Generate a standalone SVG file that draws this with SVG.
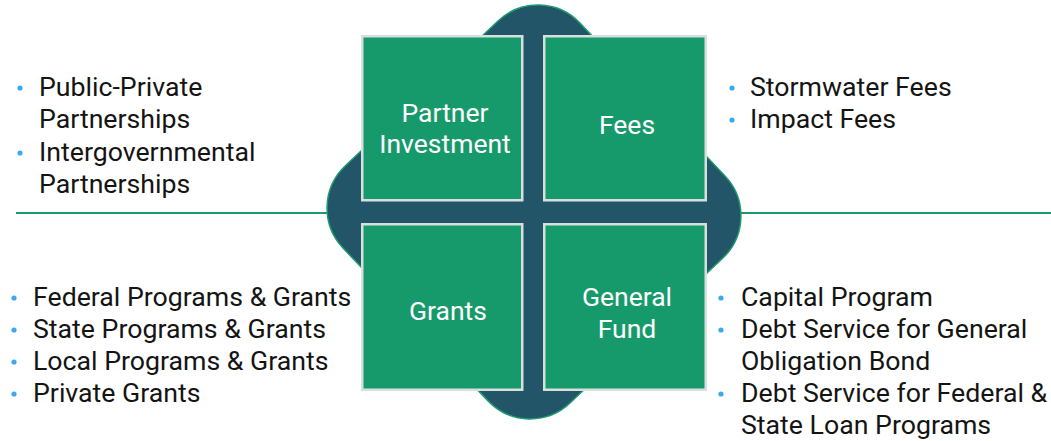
<svg xmlns="http://www.w3.org/2000/svg" width="1051" height="441" viewBox="0 0 1051 441">
  <style>
    .list { font-family: Roboto, "Liberation Sans", sans-serif; font-size: 26.7px; fill: #141414; }
    .label { font-family: Roboto, "Liberation Sans", sans-serif; font-size: 26.5px; fill: #ffffff; text-anchor: middle; }
    .bullet { fill: #3aaaf0; }
    .box { fill: #179a6b; stroke: #d8dfdc; stroke-width: 2.5; }
    .divider { stroke: #1f9a70; stroke-width: 2.2; fill: none; }
  </style>
  <rect width="1051" height="441" fill="#ffffff"/>

  <g id="connectors">
    <line class="divider" x1="16" y1="213" x2="345" y2="213"/>
    <line class="divider" x1="725" y1="213" x2="1051" y2="213"/>
  </g>

  <g id="backdrop" transform="translate(534 212) rotate(1.5)">
    <path d="M -41,-190 A 58 58 0 0 1 41,-190 L 190,-41 A 58 58 0 0 1 190,41 L 41,190 A 58 58 0 0 1 -41,190 L -190,41 A 58 58 0 0 1 -190,-41 Z" fill="#215567" stroke="#1f9a70" stroke-width="1.5"/>
  </g>

  <g id="partner-investment">
    <rect class="box" x="362.25" y="36.25" width="160" height="164"/>
    <text class="label" x="445" y="122">Partner</text>
    <text class="label" x="445" y="153">Investment</text>
  </g>
  <g id="fees">
    <rect class="box" x="544.25" y="36.25" width="161.5" height="164"/>
    <text class="label" x="627" y="134">Fees</text>
  </g>
  <g id="grants">
    <rect class="box" x="362.25" y="224.25" width="160" height="165.5"/>
    <text class="label" x="448" y="320">Grants</text>
  </g>
  <g id="general-fund">
    <rect class="box" x="544.25" y="224.25" width="161.5" height="165.5"/>
    <text class="label" x="627" y="306">General</text>
    <text class="label" x="627" y="338">Fund</text>
  </g>

  <g id="list-partner">
    <circle class="bullet" cx="20" cy="88" r="2.6"/>
    <circle class="bullet" cx="20" cy="153" r="2.6"/>
    <text class="list" x="39" y="96">Public-Private</text>
    <text class="list" x="39" y="128">Partnerships</text>
    <text class="list" x="39" y="161">Intergovernmental</text>
    <text class="list" x="39" y="193">Partnerships</text>
  </g>
  <g id="list-fees">
    <circle class="bullet" cx="732" cy="88" r="2.6"/>
    <circle class="bullet" cx="732" cy="120" r="2.6"/>
    <text class="list" x="750" y="96">Stormwater Fees</text>
    <text class="list" x="750" y="128">Impact Fees</text>
  </g>
  <g id="list-grants">
    <circle class="bullet" cx="14" cy="298" r="2.6"/>
    <circle class="bullet" cx="14" cy="330" r="2.6"/>
    <circle class="bullet" cx="14" cy="362" r="2.6"/>
    <circle class="bullet" cx="14" cy="394" r="2.6"/>
    <text class="list" x="33" y="306">Federal Programs &amp; Grants</text>
    <text class="list" x="33" y="338">State Programs &amp; Grants</text>
    <text class="list" x="33" y="370">Local Programs &amp; Grants</text>
    <text class="list" x="33" y="402">Private Grants</text>
  </g>
  <g id="list-general-fund">
    <circle class="bullet" cx="721" cy="298" r="2.6"/>
    <circle class="bullet" cx="721" cy="330" r="2.6"/>
    <circle class="bullet" cx="721" cy="394" r="2.6"/>
    <text class="list" x="741" y="306">Capital Program</text>
    <text class="list" x="741" y="338">Debt Service for General</text>
    <text class="list" x="741" y="370">Obligation Bond</text>
    <text class="list" x="741" y="402">Debt Service for Federal &amp;</text>
    <text class="list" x="741" y="434">State Loan Programs</text>
  </g>
</svg>
